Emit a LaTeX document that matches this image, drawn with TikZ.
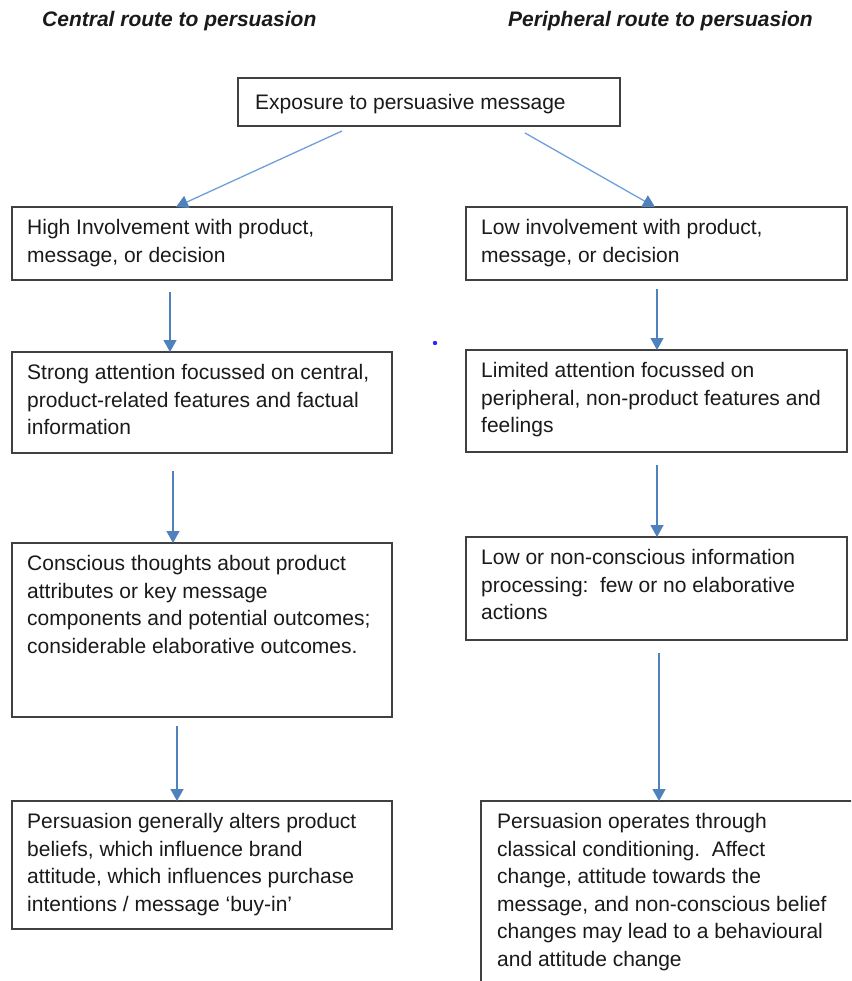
\documentclass[tikz,border=0pt]{standalone}
\usepackage{fontspec}
\setmainfont{Liberation Sans}
\usetikzlibrary{arrows.meta}
\definecolor{arrowblue}{RGB}{79,129,189}
\definecolor{slantblue}{RGB}{110,160,220}
\definecolor{boxline}{RGB}{64,64,64}
\definecolor{ink}{RGB}{26,26,26}
\definecolor{dotblue}{RGB}{40,40,255}
\tikzset{
  box/.style={draw=boxline, line width=1.3pt, anchor=north west, inner sep=0pt, outer sep=0pt},
  txt/.style={anchor=north west, inner sep=0pt, align=left, text=ink,
              font=\fontsize{21}{27.5}\selectfont},
  ttl/.style={anchor=base west, inner sep=0pt, text=ink,
              font=\fontsize{21}{25}\selectfont\bfseries\itshape},
  flow/.style={draw=arrowblue, line width=1.3pt, -{Triangle[width=13pt,length=12pt]}},
  slant/.style={draw=slantblue, line width=1.3pt, -{Triangle[width=13pt,length=12pt,color=arrowblue]}},
}
\begin{document}
\begin{tikzpicture}[x=1pt,y=-1pt]
  \clip (0,0) rectangle (851,981);
  \fill[white] (0,0) rectangle (851,981);

  % column headings
  \node[ttl] (ttlc) at (42,27) {Central route to persuasion};
  \node[ttl] (ttlp) at (508,27) {Peripheral route to persuasion};

  % boxes
  \node[box, minimum width=382pt, minimum height=48pt]  (top) at (238,78) {};
  \node[box, minimum width=380pt, minimum height=73pt]  (l1) at (12,207) {};
  \node[box, minimum width=381pt, minimum height=73pt]  (r1) at (466,207) {};
  \node[box, minimum width=380pt, minimum height=101pt] (l2) at (12,352) {};
  \node[box, minimum width=381pt, minimum height=102pt] (r2) at (466,350) {};
  \node[box, minimum width=380pt, minimum height=174pt] (l3) at (12,543) {};
  \node[box, minimum width=381pt, minimum height=103pt] (r3) at (466,537) {};
  \node[box, minimum width=380pt, minimum height=128pt] (l4) at (12,801) {};
  \node[box, minimum width=420pt, minimum height=240pt] (r4) at (481,801) {};

  % texts
  \node[txt] (topt) at (255,89.75) {\strut Exposure to persuasive message};
  \node[txt] (l1t) at (27,215.25) {\strut High Involvement with product,\\message, or decision};
  \node[txt] (r1t) at (481,215.25) {\strut Low involvement with product,\\message, or decision};
  \node[txt] (l2t) at (27,360.25) {\strut Strong attention focussed on central,\\product-related features and factual\\information};
  \node[txt] (r2t) at (481,358.25) {\strut Limited attention focussed on\\peripheral, non-product features and\\feelings};
  \node[txt] (l3t) at (27,551.25) {\strut Conscious thoughts about product\\attributes or key message\\components and potential outcomes;\\considerable elaborative outcomes.};
  \node[txt] (r3t) at (481,545.25) {\strut Low or non-conscious information\\processing:\hspace{0.55em}few or no elaborative\\actions};
  \node[txt] (l4t) at (27,809.25) {\strut Persuasion generally alters product\\beliefs, which influence brand\\attitude, which influences purchase\\intentions / message ‘buy-in’};
  \node[txt] (r4t) at (497,809.25) {\strut Persuasion operates through\\classical conditioning.\hspace{0.55em}Affect\\change, attitude towards the\\message, and non-conscious belief\\changes may lead to a behavioural\\and attitude change};

  % connectors
  \draw[slant] ([xshift=104pt,yshift=-5pt]top.south west) -- ([xshift=164pt]l1.north west);
  \draw[slant] ([xshift=287pt,yshift=-7pt]top.south west) -- ([xshift=189pt]r1.north west);
  \draw[flow] ([xshift=158pt,yshift=-12pt]l1.south west) -- ([xshift=158pt]l2.north west);
  \draw[flow] ([xshift=191pt,yshift=-9pt]r1.south west) -- ([xshift=191pt]r2.north west);
  \draw[flow] ([xshift=161pt,yshift=-18pt]l2.south west) -- ([xshift=161pt]l3.north west);
  \draw[flow] ([xshift=191pt,yshift=-13pt]r2.south west) -- ([xshift=191pt]r3.north west);
  \draw[flow] ([xshift=165pt,yshift=-9pt]l3.south west) -- ([xshift=165pt]l4.north west);
  \draw[flow] ([xshift=193pt,yshift=-13pt]r3.south west) -- ([xshift=178pt]r4.north west);

  % stray mark
  \fill[dotblue] (435,343) circle (2.2);
\end{tikzpicture}
\end{document}
